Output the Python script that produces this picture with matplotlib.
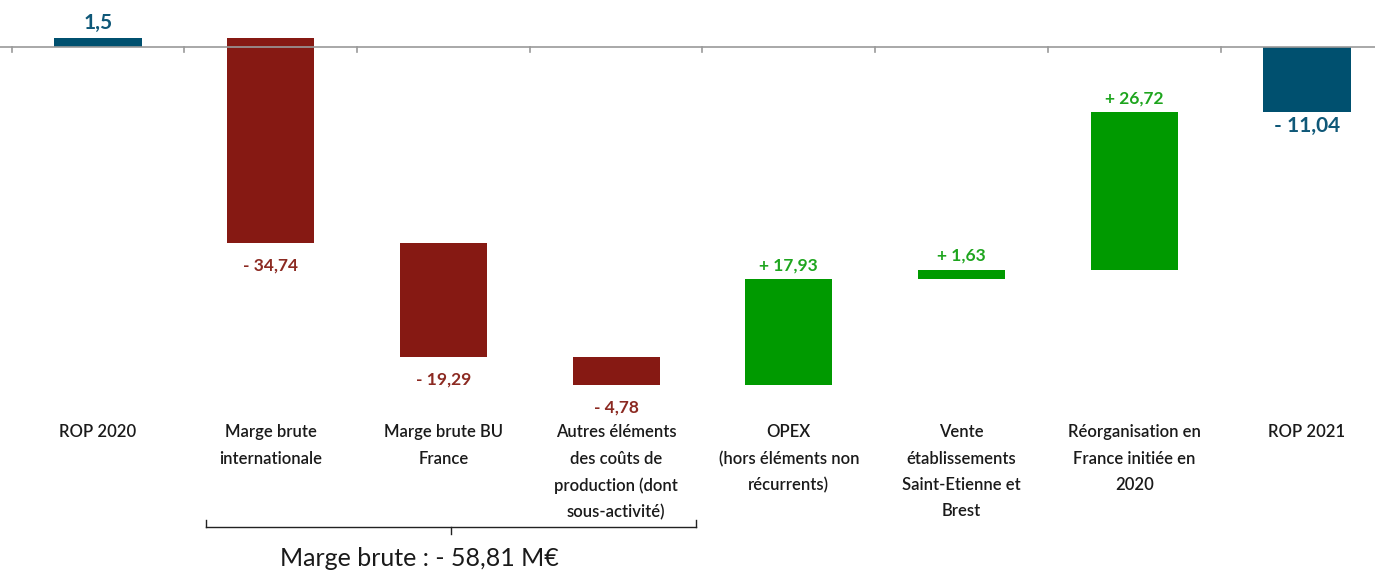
"""Waterfall: ROP 2020 -> ROP 2021 bridge."""
import matplotlib

matplotlib.use("Agg")

import matplotlib.pyplot as plt  # noqa: E402
import matplotlib.transforms as mtransforms  # noqa: E402
import numpy as np  # noqa: E402

CATEGORIES = [
    "ROP 2020",
    "Marge brute\ninternationale",
    "Marge brute BU\nFrance",
    "Autres éléments\ndes coûts de\nproduction (dont\nsous-activité)",
    "OPEX\n(hors éléments non\nrécurrents)",
    "Vente\nétablissements\nSaint-Etienne et\nBrest",
    "Réorganisation en\nFrance initiée en\n2020",
    "ROP 2021",
]
DELTAS = [-34.74, -19.29, -4.78, 17.93, 1.63, 26.72]
ROP_START = 1.5
ROP_END = -11.04
BRACKET_TEXT = "Marge brute : - 58,81 M€"

BLUE = "#00506f"
RED = "#861913"
GREEN = "#009a00"
RED_TXT = "#8c2a22"
GREEN_TXT = "#1ea51e"
BLUE_TXT = "#0f5878"
FONT = "Lato"


def fr(v, sign=True):
    s = f"{abs(v):.2f}".replace(".", ",")
    if not sign:
        return s
    return ("+ " if v > 0 else "- ") + s


def main() -> None:
    plt.rcParams["font.family"] = [FONT, "DejaVu Sans"]
    fig = plt.figure(figsize=(13.75, 5.72), dpi=100)
    ax = fig.add_axes([0, 0, 1, 1])
    ax.set_xlim(-0.5675, 7.394)
    ax.set_ylim(-88.98, 7.97)
    ax.axis("off")

    n = len(CATEGORIES)
    x = np.arange(n)
    w = 0.505

    # start / end bars
    ax.bar(x[0], ROP_START, width=w, color=BLUE, zorder=2)
    ax.bar(x[-1], ROP_END, width=w, color=BLUE, zorder=2)
    ax.text(x[0], ROP_START + 0.9, "1,5",
            ha="center", va="bottom", fontsize=15, fontweight="bold", color=BLUE_TXT)
    ax.text(x[-1], ROP_END - 0.7, fr(ROP_END), ha="center", va="top",
            fontsize=15, fontweight="bold", color=BLUE_TXT)

    # floating bars
    level = ROP_START + np.concatenate([[0], np.cumsum(DELTAS)])
    for i, d in enumerate(DELTAS):
        xi = x[i + 1]
        start = level[i]
        col = GREEN if d > 0 else RED
        ax.bar(xi, d, bottom=start, width=w, color=col, zorder=2)
        if d > 0:
            ax.text(xi, start + d + 1.0, fr(d), ha="center", va="bottom",
                    fontsize=12.5, fontweight="bold", color=GREEN_TXT)
        else:
            ax.text(xi, start + d - 2.4, fr(d), ha="center", va="top",
                    fontsize=12.5, fontweight="bold", color=RED_TXT)

    # baseline with category boundary ticks
    ax.axhline(0, color="#9a9a9a", lw=1.2, zorder=3)
    for b in np.arange(n) - 0.5:
        ax.plot([b, b], [0, -0.9], color="#9a9a9a", lw=1.2, zorder=3)

    # category labels
    tr = mtransforms.blended_transform_factory(ax.transData, ax.transAxes)
    for xi, lab in zip(x, CATEGORIES):
        ax.text(xi, 0.258, lab, transform=tr, ha="center", va="top",
                fontsize=12, fontweight="semibold", color="#1a1a1a",
                linespacing=1.78)

    # bracket under gross-margin items
    x0, x1 = 0.627, 3.46
    xm = (x0 + x1) / 2
    yb = 0.079
    tk = 0.012
    ax.plot([x0, x1], [yb, yb], transform=tr, color="#222222", lw=1.0)
    for xx in (x0, x1):
        ax.plot([xx, xx], [yb, yb + tk], transform=tr, color="#222222", lw=1.0)
    ax.plot([xm, xm], [yb, yb - tk], transform=tr, color="#222222", lw=1.0)
    ax.text(1.86, 0.024, BRACKET_TEXT, transform=tr, ha="center", va="center",
            fontsize=18, fontweight="normal", color="#1a1a1a")

    fig.savefig("out.png", dpi=100)
    plt.close(fig)


if __name__ == "__main__":
    main()
